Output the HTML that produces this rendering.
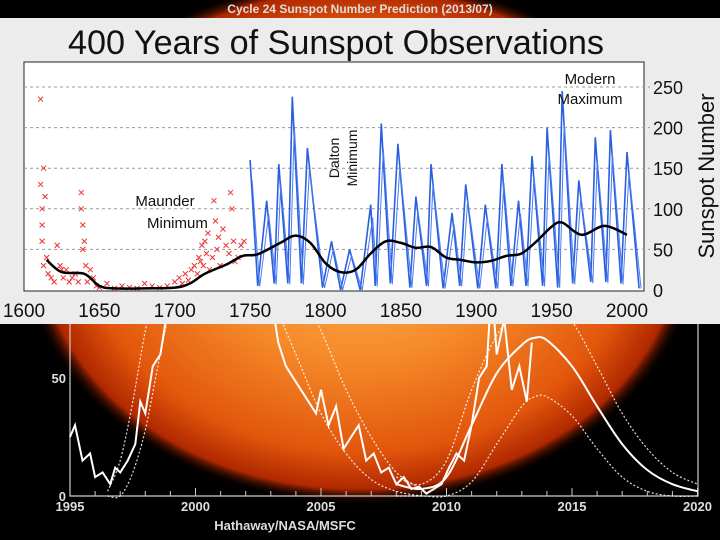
<!DOCTYPE html>
<html><head><meta charset="utf-8"><style>
html,body{margin:0;padding:0;background:#000;}
svg{display:block;font-family:"Liberation Sans",sans-serif;}
</style></head><body>
<svg id="c" width="720" height="540" viewBox="0 0 720 540">
<defs>
<radialGradient id="sun" cx="0.5" cy="0.5" r="0.5">
<stop offset="0" stop-color="#ffb45a"/>
<stop offset="0.45" stop-color="#f58a2a"/>
<stop offset="0.8" stop-color="#e2560c"/>
<stop offset="0.94" stop-color="#b02800"/>
<stop offset="1" stop-color="#000" stop-opacity="0"/>
</radialGradient>
</defs>
<rect x="0" y="0" width="720" height="540" fill="#000"/>
<ellipse cx="360" cy="240" rx="340" ry="265" fill="url(#sun)"/>
<text x="360" y="13" text-anchor="middle" font-size="12" font-weight="bold" fill="#ddd">Cycle 24 Sunspot Number Prediction (2013/07)</text>
<g id="bottomG"></g>
<rect x="0" y="18" width="720" height="306" fill="#ececec"/>
<text x="336" y="54" text-anchor="middle" font-size="34" fill="#111" textLength="536" lengthAdjust="spacingAndGlyphs">400 Years of Sunspot Observations</text>
<rect x="24" y="62" width="620" height="229" fill="#fff" stroke="#222" stroke-width="1"/>
<g id="topG"></g>
<text transform="translate(714,176) rotate(-90)" text-anchor="middle" font-size="22" fill="#111">Sunspot Number</text>
<text x="165" y="206" text-anchor="middle" font-size="15" fill="#111">Maunder</text>
<text x="147" y="228" font-size="15" fill="#111">Minimum</text>
<text transform="translate(339,158) rotate(-90)" text-anchor="middle" font-size="14" fill="#111">Dalton</text>
<text transform="translate(357,158) rotate(-90)" text-anchor="middle" font-size="14" fill="#111">Minimum</text>
<text x="590" y="84" text-anchor="middle" font-size="15" fill="#111">Modern</text>
<text x="590" y="104" text-anchor="middle" font-size="15" fill="#111">Maximum</text>
</svg>
<script>
const NS="http://www.w3.org/2000/svg";
// ---- top chart data ----
const xTicks=[1600,1650,1700,1750,1800,1850,1900,1950,2000];
const yTicks=[0,50,100,150,200,250];
const minYears=[1755,1766,1775,1784,1798,1810,1823,1833,1843,1856,1867,1878,1889,1901,1913,1923,1933,1944,1954,1964,1976,1986,1996,2008];
const maxYears=[1750,1761,1769,1778,1788,1804,1816,1830,1837,1848,1860,1870,1884,1893,1906,1917,1928,1937,1947,1957,1968,1979,1989,2000];
const maxValues=[160,110,155,238,175,60,50,105,205,180,115,155,95,130,105,155,110,165,200,245,135,188,197,170];
const minValues=[5,8,8,8,3,0,0,5,8,3,5,2,5,2,2,5,5,5,3,8,10,10,8,2];
const redYears=[1611,1611,1612,1612,1612,1613,1613,1614,1615,1616,1618,1620,1622,1624,1625,1626,1628,1630,1632,1634,1636,1638,1638,1639,1639,1640,1641,1642,1644,1646,1648,1650,1655,1660,1665,1670,1675,1680,1685,1690,1695,1700,1703,1705,1707,1709,1711,1713,1715,1716,1717,1718,1719,1720,1721,1722,1723,1725,1726,1727,1728,1729,1730,1732,1734,1736,1737,1738,1739,1740,1742,1744,1746];
const redValues=[235,130,100,80,60,150,30,115,40,20,15,10,55,30,25,15,25,10,15,20,10,100,120,50,80,60,30,10,25,15,5,3,8,2,5,3,2,8,5,3,5,10,15,8,20,12,25,30,20,40,35,55,30,60,45,70,25,40,110,85,50,65,30,75,55,45,120,100,60,35,40,55,60];
const smoothYears=[1615,1625,1640,1650,1660,1680,1700,1710,1720,1735,1745,1755,1770,1780,1790,1800,1810,1820,1830,1840,1850,1860,1870,1880,1890,1900,1910,1920,1930,1940,1950,1957,1970,1985,2000];
const smoothValues=[37,22,20,5,2,2,3,8,20,32,42,44,58,67,58,33,22,25,45,60,58,52,53,40,37,34,36,42,45,60,78,83,68,79,68];
// ---- bottom chart data ----
const bTicks=[1995,2000,2005,2010,2015,2020];
const obsYears=[1995,1995.2,1995.5,1995.8,1996,1996.3,1996.6,1996.8,1997,1997.3,1997.6,1997.8,1998,1998.3,1998.6,1998.9,1999.2,1999.5,2003,2003.3,2003.6,2003.9,2004.2,2004.5,2004.8,2005,2005.3,2005.6,2005.9,2006.2,2006.5,2006.8,2007.1,2007.4,2007.7,2008,2008.3,2008.6,2008.9,2009.2,2009.5,2009.8,2010.1,2010.4,2010.7,2011,2011.3,2011.6,2011.8,2012,2012.3,2012.6,2012.9,2013.2,2013.4];
const obsValues=[25,30,15,18,8,10,5,12,10,15,22,40,35,55,60,80,85,90,85,65,55,50,45,40,35,45,30,38,20,25,30,15,18,10,12,5,8,3,4,1,3,5,12,18,15,30,50,55,90,60,75,45,55,40,65];
const predYears=[2008,2009,2010,2011,2012,2013,2013.5,2014,2015,2016,2017,2018,2019,2020];
const predValues=[5,3,8,30,52,64,67,66,55,38,22,11,5,2];
const upperValues=[8,5,15,45,68,82,86,85,74,55,35,20,10,5];
const lowerValues=[0,0,0,6,22,38,42,42,34,20,8,2,0,0];
const prevYears=[1996.5,1997,1997.5,1998,1998.5,1999,1999.5];
const prevUpper=[2,15,40,70,95,120,140];
const prevLower=[0,0,10,28,55,80,100];
const prevDeclineYears=[2002,2003,2004,2005,2006,2007,2008,2009];
const prevDeclineValues=[110,85,60,35,18,7,2,0];
const prevDecline2Values=[140,115,90,70,45,25,10,3];

const X=y=>24+(y-1600)*1.5075;
const Y=v=>290-v*0.812;
const BX=y=>70+(y-1995)*25.1;
const BY=v=>496-v*2.36;

const topG=document.getElementById('topG');
const botG=document.getElementById('bottomG');
function mk(tag,attrs,parent){const e=document.createElementNS(NS,tag);for(const k in attrs)e.setAttribute(k,attrs[k]);parent.appendChild(e);return e;}

yTicks.forEach(v=>{
  if(v>0){const g=mk('line',{x1:24,x2:650,y1:Y(v),y2:Y(v),stroke:'#999','stroke-dasharray':'3,3'},topG);
  
  }
  const t=mk('text',{x:653,y:Y(v)+7,'font-size':18,fill:'#111'},topG);t.textContent=v;
  
  
});
xTicks.forEach(v=>{
  const t=mk('text',{x:X(v),y:317,'font-size':19,fill:'#111','text-anchor':'middle'},topG);t.textContent=v;
  
  
});
redYears.forEach((yr,i)=>{
  const x=X(yr),y=Y(redValues[i]);
  const p=mk('path',{d:`M${x-2.5},${y-2.5}L${x+2.5},${y+2.5}M${x-2.5},${y+2.5}L${x+2.5},${y-2.5}`,stroke:'#e33',fill:'none','stroke-width':1},topG);
  
  
});
let pts=[];
for(let i=0;i<maxYears.length;i++){
  pts.push([maxYears[i],maxValues[i]]);
  pts.push([minYears[i],minValues[i]]);
}
let d='';
pts.forEach((p,i)=>{d+=(i?'L':'M')+X(p[0]).toFixed(1)+','+Y(p[1]).toFixed(1);});
const blue=mk('path',{d:d,stroke:'#2a5fe0',fill:'none','stroke-width':1.6},topG);


let d2='';
pts.forEach((p,i)=>{d2+=(i?'L':'M')+(X(p[0])+2).toFixed(1)+','+Y(p[1]*0.85).toFixed(1);});
const blue2=mk('path',{d:d2,stroke:'#4a7cf0',fill:'none','stroke-width':1},topG);


function smoothPath(xs,vs,fx,fy){
  const P=xs.map((x,i)=>[fx(x),fy(vs[i])]);
  let s='M'+P[0][0]+','+P[0][1];
  for(let i=0;i<P.length-1;i++){
    const p0=P[Math.max(0,i-1)],p1=P[i],p2=P[i+1],p3=P[Math.min(P.length-1,i+2)];
    const c1=[p1[0]+(p2[0]-p0[0])/6,p1[1]+(p2[1]-p0[1])/6];
    const c2=[p2[0]-(p3[0]-p1[0])/6,p2[1]-(p3[1]-p1[1])/6];
    s+=`C${c1[0].toFixed(1)},${c1[1].toFixed(1)} ${c2[0].toFixed(1)},${c2[1].toFixed(1)} ${p2[0].toFixed(1)},${p2[1].toFixed(1)}`;
  }
  return s;
}
const blk=mk('path',{d:smoothPath(smoothYears,smoothValues,X,Y),stroke:'#000',fill:'none','stroke-width':2.5},topG);



const ax=mk('path',{d:`M70,324L70,496L698,496L698,324`,stroke:'#ccc',fill:'none','stroke-width':1.2},botG);


for(let y=1995;y<=2020;y++){
  const tk=mk('line',{x1:BX(y),x2:BX(y),y1:496,y2:y%5?491:488,stroke:'#ccc'},botG);
  
  
}
bTicks.forEach(v=>{
  const t=mk('text',{x:BX(v),y:511,'font-size':13,'font-weight':'bold',fill:'#ddd','text-anchor':'middle'},botG);t.textContent=v;
  
  
});
[[0,'0'],[50,'50']].forEach(a=>{
  const t=mk('text',{x:66,y:BY(a[0])+5,'font-size':13,'font-weight':'bold',fill:'#ddd','text-anchor':'end'},botG);t.textContent=a[1];
  
  
});
const cr=mk('text',{x:285,y:530,'font-size':13,'font-weight':'bold',fill:'#ddd','text-anchor':'middle'},botG);cr.textContent='Hathaway/NASA/MSFC';


function poly(xs,vs){return xs.map((x,i)=>(i?'L':'M')+BX(x).toFixed(1)+','+BY(vs[i]).toFixed(1)).join('');}
const dots=[[predYears,upperValues],[predYears,lowerValues],[prevYears,prevUpper],[prevYears,prevLower],[prevDeclineYears,prevDeclineValues],[prevDeclineYears,prevDecline2Values]];
dots.forEach(a=>{
  const p=mk('path',{d:smoothPath(a[0],a[1],BX,BY),stroke:'#fff',fill:'none','stroke-width':1.2,'stroke-dasharray':'2,2',opacity:0.85},botG);
  
  
});
const pr=mk('path',{d:smoothPath(predYears,predValues,BX,BY),stroke:'#fff',fill:'none','stroke-width':2},botG);


const ob=mk('path',{d:poly(obsYears,obsValues),stroke:'#fff',fill:'none','stroke-width':2},botG);


</script>
</body></html>
